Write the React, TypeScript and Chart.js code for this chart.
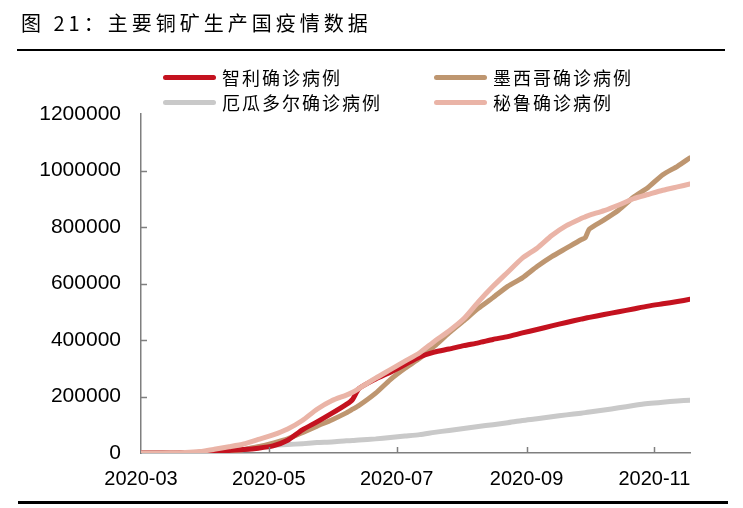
import React, { useEffect, useRef } from "react";
import { Chart, registerables } from "chart.js";
Chart.register(...registerables);

const dates = [
  "2020-03-01", "2020-03-08", "2020-03-15", "2020-03-22", "2020-03-29", "2020-04-05", "2020-04-12",
  "2020-04-19", "2020-04-26", "2020-05-03", "2020-05-10", "2020-05-17", "2020-05-24", "2020-05-31",
  "2020-06-07", "2020-06-10", "2020-06-13", "2020-06-21", "2020-06-28", "2020-07-05", "2020-07-12",
  "2020-07-19", "2020-07-26", "2020-08-02", "2020-08-09", "2020-08-16", "2020-08-23", "2020-08-30",
  "2020-09-06", "2020-09-13", "2020-09-20", "2020-09-27", "2020-09-29", "2020-10-01", "2020-10-08",
  "2020-10-15", "2020-10-22", "2020-10-29", "2020-11-05", "2020-11-12", "2020-11-18",
];

const chile = [
  0, 0, 100, 500, 2000, 5000, 9000, 12000, 17000, 25000, 45000, 82000, 110000, 140000,
  172000, 190000, 228000, 262000, 286000, 313000, 340000, 357000, 368000, 380000, 390000, 402000,
  412000, 425000, 437000, 450000, 462000, 474000, 477000, 480000, 490000, 500000, 510000, 520000,
  528000, 536000, 544000,
];

const mexico = [
  0, 0, 100, 500, 1500, 3000, 6000, 12000, 22000, 35000, 50000, 72000, 95000, 117000,
  142000, 155000, 168000, 212000, 260000, 300000, 335000, 378000, 425000, 468000, 512000, 550000,
  590000, 620000, 660000, 695000, 725000, 755000, 762000, 793000, 825000, 860000, 905000, 940000,
  985000, 1015000, 1045000,
];

const ecuador = [
  0, 0, 100, 1000, 3000, 7000, 9000, 12000, 22000, 28000, 30000, 33000, 37000, 39000,
  43000, 44000, 46000, 50000, 55000, 60000, 65000, 73000, 80000, 87000, 94000, 100000,
  107000, 115000, 121000, 128000, 135000, 141000, 143000, 145000, 152000, 160000, 168000, 175000,
  180000, 184000, 187000,
];

const peru = [
  0, 100, 500, 1500, 5000, 13000, 22000, 32000, 48000, 64000, 85000, 115000, 155000, 185000,
  205000, 215000, 228000, 265000, 295000, 325000, 355000, 395000, 432000, 475000, 535000, 590000,
  640000, 690000, 725000, 770000, 805000, 830000, 836000, 842000, 858000, 878000, 900000, 915000,
  930000, 942000, 952000,
];

const seriesNames = ["智利确诊病例", "墨西哥确诊病例", "厄瓜多尔确诊病例", "秘鲁确诊病例"];
const seriesColors = ["#C4121F", "#BE9670", "#C9C9C9", "#EAB4A7"];
const xTickLabels = ["2020-03", "2020-05", "2020-07", "2020-09", "2020-11"];
const yMax = 1200000;
const yStep = 200000;
const titleText = "图 21：主要铜矿生产国疫情数据";

const AXIS_COLOR = "#7F7F7F";
const TICK_FONT = "'Liberation Sans', Arial, sans-serif";
const CJK_FONT = "'Noto Sans CJK SC', sans-serif";

const dayOf = (s: string) => {
  const [y, m, d] = s.split("-").map(Number);
  return (Date.UTC(y, m - 1, d || 1) - Date.UTC(2020, 2, 1)) / 86400000;
};

const innerTicks = {
  id: "innerTicks",
  afterDatasetsDraw(chart: any) {
    const { ctx, chartArea, scales } = chart;
    const x = scales.x;
    const y = scales.y;
    ctx.save();
    ctx.strokeStyle = AXIS_COLOR;
    ctx.lineWidth = 1.5;
    x.ticks.forEach((t: any) => {
      if (t.value <= x.min) return;
      const px = Math.round(x.getPixelForValue(t.value)) + 0.5;
      ctx.beginPath();
      ctx.moveTo(px, chartArea.bottom);
      ctx.lineTo(px, chartArea.bottom - 6);
      ctx.stroke();
    });
    y.ticks.forEach((t: any) => {
      if (t.value <= y.min || t.value >= y.max) return;
      const py = Math.round(y.getPixelForValue(t.value)) + 0.5;
      ctx.beginPath();
      ctx.moveTo(chartArea.left, py);
      ctx.lineTo(chartArea.left + 6, py);
      ctx.stroke();
    });
    ctx.restore();
  },
};

export default function App() {
  const canvasRef = useRef<HTMLCanvasElement | null>(null);

  useEffect(() => {
    if (!canvasRef.current) return;
    const days = dates.map(dayOf);
    const all = [chile, mexico, ecuador, peru];
    const orders = [1, 2, 3, 0];
    const chart = new Chart(canvasRef.current, {
      type: "line",
      data: {
        datasets: all.map((vals, i) => ({
          label: seriesNames[i],
          data: vals.map((v, j) => ({ x: days[j], y: v })),
          borderColor: seriesColors[i],
          backgroundColor: seriesColors[i],
          borderWidth: 5,
          pointRadius: 0,
          tension: 0.2,
          borderCapStyle: "round",
          borderJoinStyle: "round",
          order: orders[i],
        })),
      },
      options: {
        responsive: false,
        animation: false,
        events: [],
        layout: { padding: { left: 0, top: 114, right: 53, bottom: 0 } },
        plugins: { legend: { display: false }, tooltip: { enabled: false }, title: { display: false } },
        scales: {
          x: {
            type: "linear",
            min: 0,
            max: dayOf(dates[dates.length - 1]),
            afterFit: (s: any) => { s.height = 55; },
            afterBuildTicks: (s: any) => {
              s.ticks = xTickLabels.map((l) => ({ value: dayOf(l + "-01") }));
            },
            grid: { display: false },
            border: { display: true, color: AXIS_COLOR, width: 1.5 },
            ticks: {
              autoSkip: false,
              maxRotation: 0,
              padding: 6,
              color: "#000",
              font: { family: TICK_FONT, size: 20 },
              callback: (v: any) => {
                const idx = xTickLabels.findIndex((l) => dayOf(l + "-01") === v);
                return idx >= 0 ? xTickLabels[idx] : "";
              },
            },
          },
          y: {
            min: 0,
            max: yMax,
            afterFit: (s: any) => { s.width = 141; },
            grid: { display: false },
            border: { display: true, color: AXIS_COLOR, width: 1.5 },
            ticks: {
              stepSize: yStep,
              padding: 12,
              color: "#000",
              font: { family: TICK_FONT, size: 21 },
              callback: (v: any) => String(v),
            },
          },
        },
      },
      plugins: [innerTicks],
    } as any);
    return () => chart.destroy();
  }, []);

  const legendPos = [
    { lx: 163, tx: 222, y: 77 },
    { lx: 434, tx: 493, y: 77 },
    { lx: 163, tx: 222, y: 102 },
    { lx: 434, tx: 493, y: 102 },
  ];

  return (
    <div style={{ position: "absolute", left: 0, top: 0, width: 743, height: 508, background: "#fff", overflow: "hidden" }}>
      <canvas ref={canvasRef} width={743} height={508} style={{ position: "absolute", left: 0, top: 0, width: 743, height: 508 }} />
      <div style={{ position: "absolute", left: 21, top: 12, fontFamily: CJK_FONT, fontSize: 20, lineHeight: "22px", letterSpacing: "4px", color: "#000", whiteSpace: "nowrap" }}>
        {titleText}
      </div>
      <div style={{ position: "absolute", left: 17, top: 49, width: 708, height: 2, background: "#000" }} />
      {seriesNames.map((name, i) => (
        <React.Fragment key={name}>
          <div style={{ position: "absolute", left: legendPos[i].lx, top: legendPos[i].y - 2.5, width: 53, height: 5, borderRadius: 3, background: seriesColors[i] }} />
          <div style={{ position: "absolute", left: legendPos[i].tx, top: legendPos[i].y - 11, fontFamily: CJK_FONT, fontSize: 18, lineHeight: "22px", letterSpacing: "2px", color: "#000", whiteSpace: "nowrap" }}>
            {name}
          </div>
        </React.Fragment>
      ))}
      <div style={{ position: "absolute", left: 18, top: 501, width: 710, height: 3, background: "#000" }} />
    </div>
  );
}
